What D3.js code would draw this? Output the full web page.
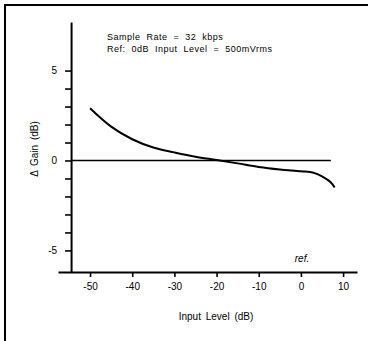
<!DOCTYPE html>
<html>
<head>
<meta charset="utf-8">
<script src="https://cdn.jsdelivr.net/npm/d3@7"></script>
<style>
  body { margin: 0; background: #fff; }
  svg { display: block; font-family: "Liberation Sans", Arial, sans-serif; }
  .axis path, .axis line { stroke: #000; }
  .axis path { stroke-width: 2; }
  .axis line { stroke-width: 1.6; }
  .axis text { font-size: 10px; fill: #000; }
</style>
</head>
<body>
<div id="container"></div>
<script>
/* CONSTANTS AND GLOBALS */
const width = 368,
    height = 341;

// DATA
const inputLevel = [-50, -45, -40, -35, -30, -25, -20, -15, -10, -5, 0, 3, 5, 7, 8];
const gainDelta = [2.9, 1.88, 1.18, 0.72, 0.45, 0.21, 0.03, -0.16, -0.36, -0.5, -0.6, -0.68, -0.88, -1.2, -1.5];
const xTicks = [-50, -40, -30, -20, -10, 0, 10];
const yTicks = [-5, -4, -3, -2, -1, 0, 1, 2, 3, 4, 5];
const yLabeled = [-5, 0, 5];
const refLine = [-54.5, 7.1];
const notes = ["Sample Rate = 32 kbps", "Ref: 0dB Input Level = 500mVrms"];

const data = inputLevel.map((d, i) => ({ x: d, y: gainDelta[i] }));

//SCALES
const xScale = d3.scaleLinear()
    .domain([-57.6, 13.3])
    .range([58, 357]);

const yScale = d3.scaleLinear()
    .domain([-6.2, 7.7])
    .range([272, 22]);

/*HTML Elements */
const svg = d3.select("#container")
    .append("svg")
    .attr("width", width)
    .attr("height", height);

// FRAME (top + left edges only)
svg.append("path")
    .attr("d", `M5,${height} V5 H${width}`)
    .attr("fill", "none")
    .attr("stroke", "#000")
    .attr("stroke-width", 2);

// X AXIS
svg.append("g")
    .attr("class", "axis")
    .attr("transform", `translate(0,${yScale(-6.2)})`)
    .call(d3.axisBottom(xScale).tickValues(xTicks).tickSize(5).tickSizeOuter(0).tickPadding(6)
        .tickFormat(d => String(d)));

// Y AXIS
const yAxisX = xScale(-54.5);
svg.append("g")
    .attr("class", "axis")
    .attr("transform", `translate(${yAxisX},0)`)
    .call(d3.axisLeft(yScale).tickValues(yTicks).tickSize(6).tickSizeOuter(0).tickPadding(8)
        .tickFormat(d => yLabeled.includes(d) ? String(d) : ""));

// REFERENCE LINE at 0 dB
svg.append("line")
    .attr("x1", xScale(refLine[0]))
    .attr("x2", xScale(refLine[1]))
    .attr("y1", yScale(0))
    .attr("y2", yScale(0))
    .attr("stroke", "#000")
    .attr("stroke-width", 1.3);

// CURVE
const line = d3.line()
    .x(d => xScale(d.x))
    .y(d => yScale(d.y))
    .curve(d3.curveCatmullRom.alpha(0.5));

svg.append("path")
    .datum(data)
    .attr("d", line)
    .attr("fill", "none")
    .attr("stroke", "#000")
    .attr("stroke-width", 2);

// ANNOTATIONS
svg.selectAll("text.note")
    .data(notes)
    .join("text")
    .attr("class", "note")
    .attr("x", 107)
    .attr("y", (d, i) => 40 + i * 12)
    .style("font-size", "9px")
    .style("letter-spacing", "0.5px")
    .style("word-spacing", "3px")
    .text(d => d);

svg.append("text")
    .attr("x", 302)
    .attr("y", 262)
    .attr("text-anchor", "middle")
    .style("font-size", "10px")
    .style("font-style", "italic")
    .text("ref.");

// AXIS LABELS
svg.append("text")
    .attr("x", 216)
    .attr("y", 320)
    .attr("text-anchor", "middle")
    .style("font-size", "10px")
    .style("word-spacing", "2px")
    .text("Input Level (dB)");

svg.append("text")
    .attr("transform", "translate(38,149) rotate(-90)")
    .attr("text-anchor", "middle")
    .style("font-size", "10px")
    .style("word-spacing", "2px")
    .text("Δ Gain (dB)");
</script>
</body>
</html>
